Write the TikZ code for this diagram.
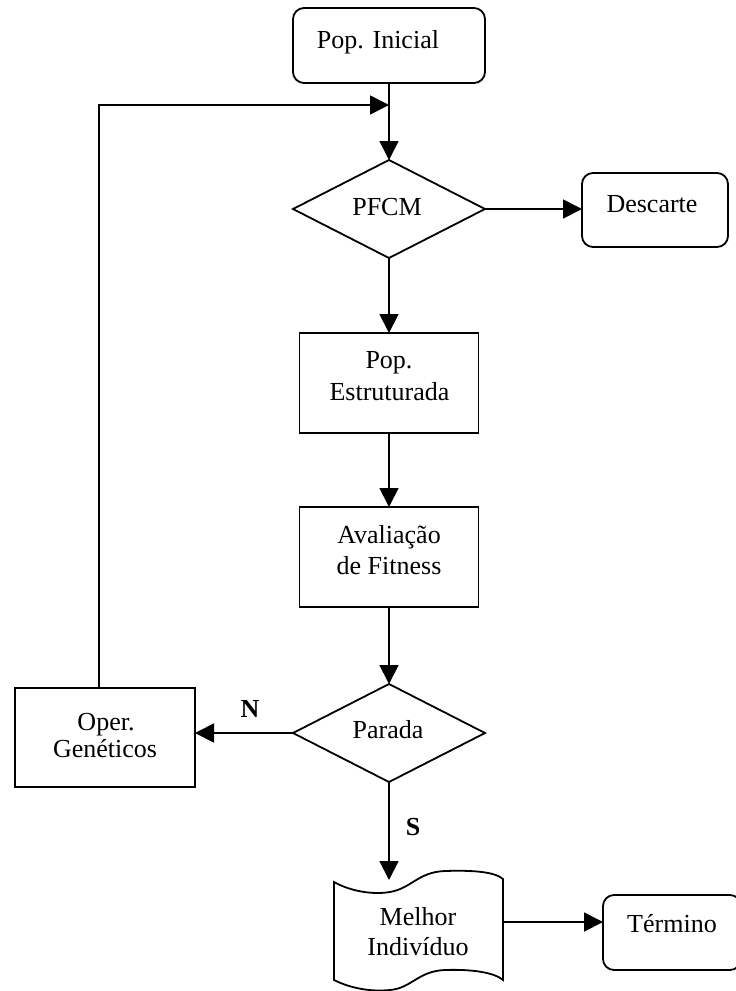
\documentclass[tikz,border=0pt]{standalone}
\usepackage{fontspec}
\setmainfont{Liberation Serif}
\usetikzlibrary{shapes.geometric,arrows.meta}
\begin{document}
\begin{tikzpicture}[x=1pt,y=-1pt,
  line width=1.8pt,
  every node/.style={inner sep=0pt, outer sep=0pt},
  rbox/.style={draw, rectangle, rounded corners=11pt},
  sbox/.style={draw, rectangle},
  dia/.style={draw, diamond, minimum width=192pt, minimum height=98pt},
  lbl/.style={anchor=base, font=\fontsize{26}{30}\selectfont},
  blbl/.style={anchor=base, font=\fontsize{26}{30}\selectfont\bfseries},
  arr/.style={-{Triangle[length=19pt,width=19pt]}}
]
\useasboundingbox (0,0) rectangle (736,991);

% shapes
\node[rbox, minimum width=192pt, minimum height=75pt] (init) at (389,45.5) {};
\node[dia] (pfcm) at (389,209) {};
\node[rbox, minimum width=146pt, minimum height=74pt] (desc) at (655,210) {};
\node[sbox, minimum width=179pt, minimum height=100pt] (popest) at (389,383) {};
\node[sbox, minimum width=179pt, minimum height=100pt] (aval) at (389,557) {};
\node[dia] (parada) at (389,733) {};
\node[sbox, minimum width=180pt, minimum height=99pt] (oper) at (105,737.5) {};
\node[rbox, minimum width=138pt, minimum height=75pt] (term) at (672,932.5) {};

% document shape (Melhor Individuo)
\draw (334,882) .. controls (350,891) and (372,895) .. (390,892)
  .. controls (412,888) and (418,872) .. (445,871)
  .. controls (474,870) and (495,872) .. (503,879)
  -- (503,980)
  .. controls (495,973) and (474,969) .. (445,970)
  .. controls (418,971) and (412,988) .. (390,990)
  .. controls (370,992) and (350,988) .. (334,980) -- cycle;
\coordinate (docin) at (389,880);
\coordinate (docout) at (503,922);
\coordinate (fb) at (389,105);

% texts
\node[lbl] (tinit) at (378,48) {Pop. Inicial};
\node[lbl] (tpfcm) at (387,215) {PFCM};
\node[lbl] (tdesc) at (652,212) {Descarte};
\node[lbl] (tpop1) at (389,368) {Pop.};
\node[lbl] (tpop2) at (389.5,400) {Estruturada};
\node[lbl] (taval1) at (389,543) {Avaliação};
\node[lbl] (taval2) at (389,574) {de Fitness};
\node[lbl] (tparada) at (388,738) {Parada};
\node[lbl] (toper1) at (106,730) {Oper.};
\node[lbl] (toper2) at (105,757) {Genéticos};
\node[lbl] (tbest1) at (418,925) {Melhor};
\node[lbl] (tbest2) at (418,955) {Indivíduo};
\node[lbl] (tterm) at (672,932) {Término};
\node[blbl] (tn) at (250,717) {N};
\node[blbl] (ts) at (413,835) {S};

% connectors
\draw[arr] (init.south) -- (pfcm.north);
\draw[arr] (pfcm.east) -- (pfcm.east -| desc.west);
\draw[arr] (pfcm.south) -- (popest.north);
\draw[arr] (popest.south) -- (aval.north);
\draw[arr] (aval.south) -- (parada.north);
\draw[arr] (parada.west) -- (parada.west -| oper.east);
\draw[arr] (parada.south) -- (docin);
\draw[arr] ([xshift=-6pt]oper.north) |- (fb);
\draw[arr] (docout) -- (docout -| term.west);
\end{tikzpicture}
\end{document}
